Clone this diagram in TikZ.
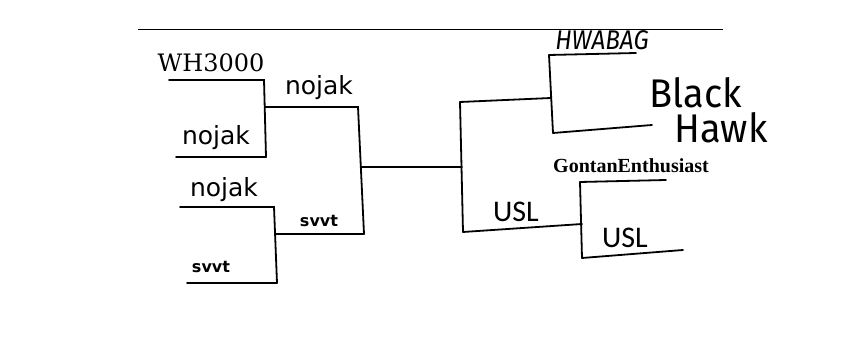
\documentclass[tikz,border=0pt]{standalone}
\usepackage{fontspec}
\setmainfont{DejaVu Sans}
\newfontfamily\serifw{DejaVu Serif}
\newfontfamily\frakf{Liberation Serif}
\newfontfamily\comicf{DejaVu Sans}
\newfontfamily\comicb{DejaVu Sans}
\newfontfamily\calfont{Carlito}
\newfontfamily\handf{Fira Sans}
\tikzset{
  br/.style={line width=1.8pt, line cap=round},
  rule/.style={line width=0.9pt},
  lbl/.style={anchor=base, inner sep=0pt, outer sep=0pt},
  serlbl/.style={lbl, font=\serifw\fontsize{24}{26}\selectfont},
  nojaklbl/.style={lbl, font=\comicf\fontsize{25}{28}\selectfont},
  svvtlbl/.style={lbl, font=\comicb\bfseries\fontsize{16}{18}\selectfont},
  usllbl/.style={lbl, font=\calfont\fontsize{30}{32}\selectfont},
  hwlbl/.style={lbl, font=\handf\itshape\fontsize{27}{30}\selectfont},
  bhlbl/.style={lbl, font=\handf\fontsize{40}{44}\selectfont},
  fraklbl/.style={lbl, font=\frakf\bfseries\fontsize{20}{22}\selectfont},
}
\begin{document}
\begin{tikzpicture}[x=1pt,y=-1pt]
\useasboundingbox (0,0) rectangle (862,352);
\fill[white] (0,0) rectangle (862,352);
% top rule
\coordinate (r1) at (138,29);
\coordinate (r2) at (723,29);
\draw[rule] (r1) -- (r2);
% bracket coordinates
\coordinate (a1) at (169,80);  \coordinate (a2) at (264,80);
\coordinate (a3) at (176,157); \coordinate (a4) at (266,157);
\coordinate (am) at (265,107); \coordinate (b1) at (358,107);
\coordinate (c1) at (180,207); \coordinate (c2) at (274,207);
\coordinate (c3) at (187,283); \coordinate (c4) at (277,283);
\coordinate (cm) at (276,234); \coordinate (b2) at (364,234);
\coordinate (bm) at (361,167); \coordinate (d0) at (462,167);
\coordinate (d1) at (460,102); \coordinate (d2) at (463,232);
\coordinate (e0) at (551,98);
\coordinate (e1) at (549,55);  \coordinate (e2) at (636,53);
\coordinate (e3) at (553,133); \coordinate (e4) at (652,125);
\coordinate (f0) at (582,224);
\coordinate (f1) at (580,182); \coordinate (f2) at (666,180);
\coordinate (f3) at (582,258); \coordinate (f4) at (683,250);
% left brackets
\draw[br] (a1) -- (a2) -- (a4);
\draw[br] (a3) -- (a4);
\draw[br] (am) -- (b1) -- (b2);
\draw[br] (c1) -- (c2) -- (c4);
\draw[br] (c3) -- (c4);
\draw[br] (cm) -- (b2);
% centre
\draw[br] (bm) -- (d0);
\draw[br] (d1) -- (d2);
% right top
\draw[br] (d1) -- (e0);
\draw[br] (e1) -- (e3);
\draw[br] (e1) -- (e2);
\draw[br] (e3) -- (e4);
% right bottom
\draw[br] (d2) -- (f0);
\draw[br] (f1) -- (f3);
\draw[br] (f1) -- (f2);
\draw[br] (f3) -- (f4);
% labels
\node[serlbl] (wh) at (211,72) {WH3000};
\node[nojaklbl] (nj1) at (319,95) {nojak};
\node[nojaklbl] (nj2) at (216,145) {nojak};
\node[nojaklbl] (nj3) at (224,197) {nojak};
\node[svvtlbl] (sv1) at (319,227) {svvt};
\node[svvtlbl] (sv2) at (211,273) {svvt};
\node[usllbl] (usl1) at (516,222) {USL};
\node[usllbl] (usl2) at (625,248) {USL};
\node[hwlbl] (hw) at (602,50) {\scalebox{0.9}[1]{HWABAG}};
\node[bhlbl] (bl) at (696,108) {\scalebox{0.95}[1]{Black}};
\node[bhlbl] (hk) at (721,143) {\scalebox{0.95}[1]{Hawk}};
\node[fraklbl] (ge) at (631,173) {GontanEnthusiast};
\end{tikzpicture}
\end{document}
